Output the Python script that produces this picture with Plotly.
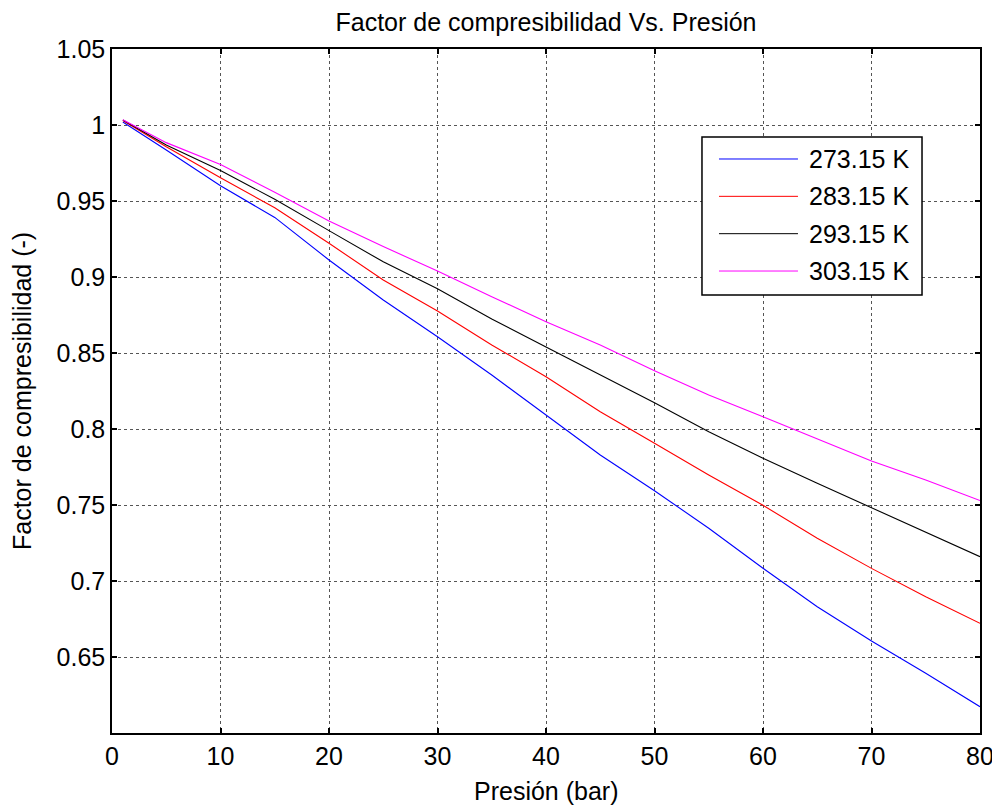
import plotly.graph_objects as go

# Datos (presion en bar, factor Z)
presion = [1, 5, 10, 15, 20, 25, 30, 35, 40, 45, 50, 55, 60, 65, 70, 75, 80]
z_27315 = [1.002, 0.9836, 0.960, 0.9392, 0.9112, 0.8849, 0.8607, 0.8355, 0.8092,
           0.7829, 0.7594, 0.7347, 0.7084, 0.6831, 0.6605, 0.6393, 0.6173]
z_28315 = [1.003, 0.9857, 0.9653, 0.9455, 0.9222, 0.898, 0.8776, 0.8553, 0.8344,
           0.8114, 0.7906, 0.7697, 0.7498, 0.7281, 0.7083, 0.6897, 0.6722]
z_29315 = [1.0033, 0.9868, 0.970, 0.9512, 0.9305, 0.910, 0.8923, 0.8724, 0.854,
           0.8355, 0.8173, 0.7982, 0.7807, 0.7643, 0.7482, 0.7325, 0.716]
z_30315 = [1.0035, 0.9884, 0.974, 0.9558, 0.9368, 0.920, 0.904, 0.887, 0.8706,
           0.8553, 0.8384, 0.8224, 0.8081, 0.7934, 0.7789, 0.7664, 0.7529]

nombres = ['273.15 K', '283.15 K', '293.15 K', '303.15 K']
series = [z_27315, z_28315, z_29315, z_30315]
colores = ['#0000FF', '#FF0000', '#000000', '#FF00FF']

x_ticks = [0, 10, 20, 30, 40, 50, 60, 70, 80]
y_ticks = [0.65, 0.7, 0.75, 0.8, 0.85, 0.9, 0.95, 1, 1.05]
y_labels = ['0.65', '0.7', '0.75', '0.8', '0.85', '0.9', '0.95', '1', '1.05']

FONT = 'Liberation Sans, Arial, sans-serif'
FS = 25

fig = go.Figure()

for nombre, z, color in zip(nombres, series, colores):
    fig.add_trace(go.Scatter(
        x=presion, y=z,
        mode='lines',
        name=nombre,
        line=dict(color=color, width=1.1),
        showlegend=False
    ))

# Leyenda dibujada a mano (estilo MATLAB, linea larga)
fig.add_shape(type='rect', xref='paper', yref='paper',
              x0=0.6797, x1=0.9332, y0=0.6404, y1=0.8713,
              line=dict(color='black', width=1.5), fillcolor='white', layer='above')
for i, (nombre, color) in enumerate(zip(nombres, colores)):
    yy = 0.8392 - i * 0.0546
    fig.add_shape(type='line', xref='paper', yref='paper',
                  x0=0.6993, x1=0.7903, y0=yy, y1=yy,
                  line=dict(color=color, width=1), layer='above')
    fig.add_annotation(x=0.8007, y=yy, xref='paper', yref='paper',
                       text=nombre, showarrow=False, xanchor='left', yanchor='middle',
                       font=dict(size=FS, color='black', family=FONT))

# Titulos de ejes como anotaciones para fijar su posicion
fig.add_annotation(x=0.5, y=-58 / 684, xref='paper', yref='paper',
                   text='Presión (bar)', showarrow=False, xanchor='center', yanchor='middle',
                   font=dict(size=FS, color='black', family=FONT))
fig.add_annotation(x=-90 / 868, y=0.5, xref='paper', yref='paper',
                   text='Factor de compresibilidad (-)', showarrow=False, textangle=-90,
                   xanchor='center', yanchor='middle',
                   font=dict(size=FS, color='black', family=FONT))

axis_common = dict(
    showline=True, linecolor='black', linewidth=1.5, mirror='ticks',
    ticks='inside', ticklen=5, tickcolor='black', tickwidth=1.5,
    showgrid=True, gridcolor='#555555', griddash='dot', gridwidth=1,
    zeroline=False, automargin=False,
    tickfont=dict(size=FS, color='black', family=FONT),
)

fig.update_xaxes(range=[0, 80], tickvals=x_ticks, ticklabelstandoff=0, **axis_common)
fig.update_yaxes(range=[0.6, 1.05], tickvals=y_ticks, ticktext=y_labels,
                 ticklabelstandoff=0, **axis_common)

# la pagina tiene 8 px de margen en el body: se compensa aqui
fig.update_layout(
    title=dict(text='Factor de compresibilidad Vs. Presión', x=538 / 1000, xref='container',
               y=1 - 5 / 807, yref='container', xanchor='center', yanchor='top',
               font=dict(size=25, color='black', family=FONT)),
    width=1000, height=807,
    margin=dict(l=104, r=28, t=41, b=82),
    paper_bgcolor='white',
    plot_bgcolor='white',
    font=dict(family=FONT, color='black')
)

fig.write_html("out.html")
